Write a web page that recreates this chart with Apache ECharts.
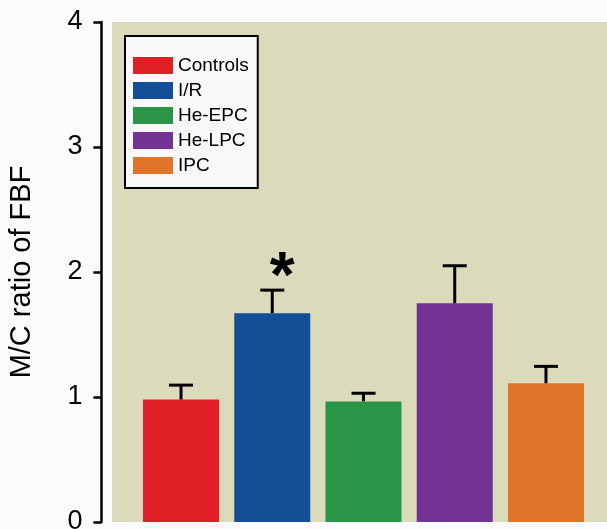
<!DOCTYPE html>
<html>
<head>
<meta charset="utf-8">
<script src="https://cdn.jsdelivr.net/npm/echarts@6/dist/echarts.min.js"></script>
<style>
html,body{margin:0;padding:0;background:#fbfbfd;}
#chart{width:607px;height:529px;}
</style>
</head>
<body>
<div id="chart"></div>
<script>
const categories = ['Controls', 'I/R', 'He-EPC', 'He-LPC', 'IPC'];
const means = [0.98, 1.67, 0.965, 1.75, 1.11];
const errUpper = [1.095, 1.855, 1.03, 2.05, 1.245];
const marks = ['', '*', '', '', ''];
const yTicks = [0, 1, 2, 3, 4];
const colors = ['#e01f27', '#134e97', '#2a9447', '#723393', '#e07429'];

const chart = echarts.init(document.getElementById('chart'));
const FONT = '"Liberation Sans", Arial, Helvetica, sans-serif';

const barSeries = categories.map((name, i) => ({
  type: 'bar',
  name: name,
  xAxisIndex: 0,
  yAxisIndex: 0,
  barWidth: 76,
  barGap: '-100%',
  itemStyle: { color: colors[i] },
  data: categories.map((c, j) => (j === i ? means[j] : null)),
  z: 2
}));

const errData = categories.map((c, i) => [i, means[i], errUpper[i], marks[i]]);

const errSeries = {
  type: 'custom',
  xAxisIndex: 0,
  yAxisIndex: 0,
  z: 5,
  encode: { x: 0, y: [1, 2] },
  data: errData,
  renderItem: function (params, api) {
    const x = api.value(0);
    const p0 = api.coord([x, api.value(1)]);
    const p1 = api.coord([x, api.value(2)]);
    const half = 12;
    const children = [
      { type: 'line', shape: { x1: p0[0], y1: p0[1], x2: p1[0], y2: p1[1] }, style: { stroke: '#000', lineWidth: 3 } },
      { type: 'line', shape: { x1: p1[0] - half, y1: p1[1], x2: p1[0] + half, y2: p1[1] }, style: { stroke: '#000', lineWidth: 3 } }
    ];
    const m = errData[params.dataIndex][3];
    if (m) {
      children.push({
        type: 'text',
        style: {
          text: m, x: p1[0] + 10, y: p1[1] - 11,
          fill: '#000', font: 'bold 64px ' + FONT,
          align: 'center', verticalAlign: 'middle'
        }
      });
    }
    return { type: 'group', children: children };
  }
};

chart.setOption({
  backgroundColor: '#fbfbfd',
  animation: false,
  grid: [
    { left: 135.4, right: 15.4, top: 22, bottom: 7, containLabel: false, outerBoundsMode: 'none' },
    { left: 112, right: 0, top: 22, bottom: 7, show: true, backgroundColor: '#dbdbbb', borderWidth: 0, z: 0, outerBoundsMode: 'none' }
  ],
  legend: {
    orient: 'vertical',
    left: 125,
    top: 36,
    padding: [20, 9, 13, 8],
    itemWidth: 40,
    itemHeight: 17,
    itemGap: 6,
    backgroundColor: '#f8f8fa',
    borderColor: '#000',
    borderWidth: 2,
    borderRadius: 0,
    icon: 'rect',
    data: categories,
    textStyle: { fontFamily: FONT, fontSize: 19, color: '#000', lineHeight: 17 }
  },
  xAxis: [
    { type: 'category', gridIndex: 0, data: categories, show: false },
    { type: 'value', gridIndex: 1, show: false }
  ],
  yAxis: [
    {
      type: 'value', gridIndex: 0, min: yTicks[0], max: yTicks[yTicks.length - 1], interval: 1,
      offset: 34,
      name: 'M/C ratio of FBF',
      nameLocation: 'middle',
      nameGap: 65,
      nameTextStyle: { fontFamily: FONT, fontSize: 29, color: '#000' },
      axisLine: { show: true, lineStyle: { color: '#000', width: 2.5 } },
      axisTick: { show: true, length: 8, lineStyle: { color: '#000', width: 2.5 } },
      axisLabel: { fontFamily: FONT, fontSize: 27, color: '#000', margin: 19 },
      splitLine: { show: false }
    },
    { type: 'value', gridIndex: 1, show: false }
  ],
  series: barSeries.concat([errSeries])
});
</script>
</body>
</html>
